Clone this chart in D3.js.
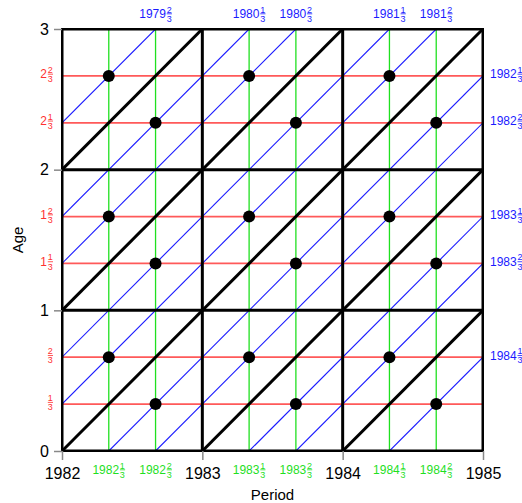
<!DOCTYPE html>
<html><head><meta charset="utf-8">
<script src="https://cdn.jsdelivr.net/npm/d3@7"></script>
<style>body{margin:0;background:#fff}svg{display:block;font-family:"Liberation Sans",Arial,sans-serif}</style>
</head><body>
<svg id="c" width="522" height="503"></svg>
<script>
// ---- data ----
const periodTicks = [1982, 1983, 1984, 1985];
const ageTicks = [0, 1, 2, 3];
// fractional periods: [whole, thirds]
const periodFracs = [[1982,1],[1982,2],[1983,1],[1983,2],[1984,1],[1984,2]];
// fractional ages: [whole, thirds]
const ageFracs = [[0,1],[0,2],[1,1],[1,2],[2,1],[2,2]];
// black cohort diagonals (birth year)
const cohortsMajor = [1980, 1981, 1982, 1983, 1984];
// blue cohort diagonals: [whole, thirds]
const cohortsMinor = [[1979,2],[1980,1],[1980,2],[1981,1],[1981,2],[1982,1],[1982,2],[1983,1],[1983,2],[1984,1]];
// points: [period whole, period thirds, age whole, age thirds]
const dots = [
  [1982,1,2,2],[1982,2,2,1],[1983,1,2,2],[1983,2,2,1],[1984,1,2,2],[1984,2,2,1],
  [1982,1,1,2],[1982,2,1,1],[1983,1,1,2],[1983,2,1,1],[1984,1,1,2],[1984,2,1,1],
  [1982,1,0,2],[1982,2,0,1],[1983,1,0,2],[1983,2,0,1],[1984,1,0,2],[1984,2,0,1]
];

const RED = "#ff3030", GREEN = "#1fe01f", BLUE = "#1a1aff";
const svg = d3.select("#c");
const x = d3.scaleLinear().domain([1982, 1985]).range([62, 483]);
const y = d3.scaleLinear().domain([0, 3]).range([451, 29]);
const val = f => f[0] + f[1] / 3;

const defs = svg.append("defs");
defs.append("clipPath").attr("id","clip").append("rect")
  .attr("x", x(1982)).attr("y", y(3)).attr("width", x(1985)-x(1982)).attr("height", y(0)-y(3));
const plot = svg.append("g").attr("clip-path","url(#clip)");

// red horizontal lines
plot.selectAll(".hr").data(ageFracs).join("line")
  .attr("x1", x(1982)).attr("x2", x(1985))
  .attr("y1", d => y(val(d))).attr("y2", d => y(val(d)))
  .attr("stroke", RED).attr("stroke-width", 1.7).attr("stroke-opacity", 0.8);
// green vertical lines
plot.selectAll(".vg").data(periodFracs).join("line")
  .attr("y1", y(0)).attr("y2", y(3))
  .attr("x1", d => x(val(d))).attr("x2", d => x(val(d)))
  .attr("stroke", GREEN).attr("stroke-width", 1.3);

function seg(c) {
  const p0 = Math.max(1982, c), p1 = Math.min(1985, c + 3);
  return [p0, p0 - c, p1, p1 - c];
}
// blue cohort lines
plot.selectAll(".bl").data(cohortsMinor).join("line")
  .each(function(d){
    const s = seg(val(d));
    d3.select(this).attr("x1", x(s[0])).attr("y1", y(s[1])).attr("x2", x(s[2])).attr("y2", y(s[3]));
  })
  .attr("stroke", BLUE).attr("stroke-width", 1.1);
// black cohort lines
plot.selectAll(".bk").data(cohortsMajor).join("line")
  .each(function(d){
    const s = seg(d);
    d3.select(this).attr("x1", x(s[0])).attr("y1", y(s[1])).attr("x2", x(s[2])).attr("y2", y(s[3]));
  })
  .attr("stroke", "#000").attr("stroke-width", 3);
// integer grid
plot.selectAll(".gv").data(periodTicks).join("line")
  .attr("x1", d => x(d)).attr("x2", d => x(d)).attr("y1", y(0)).attr("y2", y(3))
  .attr("stroke", "#000").attr("stroke-width", 3);
plot.selectAll(".gh").data(ageTicks).join("line")
  .attr("y1", d => y(d)).attr("y2", d => y(d)).attr("x1", x(1982)).attr("x2", x(1985))
  .attr("stroke", "#000").attr("stroke-width", 3);
svg.append("rect").attr("x", x(1982)).attr("y", y(3)).attr("width", x(1985)-x(1982)).attr("height", y(0)-y(3))
  .attr("fill","none").attr("stroke","#000").attr("stroke-width",2);

// dots
svg.selectAll(".dot").data(dots).join("circle")
  .attr("cx", d => x(d[0] + d[1]/3)).attr("cy", d => y(d[2] + d[3]/3)).attr("r", 6).attr("fill", "#000");

// axes
const xAxis = d3.axisBottom(x).tickValues(periodTicks).tickFormat(d3.format("d")).tickSize(9).tickPadding(8);
const gx = svg.append("g").attr("transform", `translate(0,${y(0)})`).call(xAxis);
gx.select(".domain").remove();
gx.selectAll(".tick line").attr("stroke", "#888").attr("stroke-width", 1.5);
gx.selectAll(".tick text").attr("font-size", 16).attr("fill", "#000").attr("font-family", "Liberation Sans, Arial, sans-serif");
const yAxis = d3.axisLeft(y).tickValues(ageTicks).tickFormat(d3.format("d")).tickSize(8).tickPadding(5);
const gy = svg.append("g").attr("transform", `translate(${x(1982)},0)`).call(yAxis);
gy.select(".domain").remove();
gy.selectAll(".tick line").attr("stroke", "#888").attr("stroke-width", 1.5);
gy.selectAll(".tick text").attr("font-size", 16).attr("fill", "#000").attr("font-family", "Liberation Sans, Arial, sans-serif");

// fraction label: whole (may be null) + stacked n/3
function fracLabel(px, py, whole, num, color, anchor) {
  const g = svg.append("g").attr("fill", color);
  let w = 0;
  if (whole !== null) {
    const t = g.append("text").attr("x", 0).attr("y", 0).attr("font-size", 12).text(whole);
    w = t.node().getComputedTextLength();
  }
  const fx = w + 0.5, fw = 5.5;
  g.append("text").attr("x", fx + fw/2).attr("y", -5.5).attr("font-size", 9).attr("text-anchor","middle").text(num);
  g.append("line").attr("x1", fx + 0.3).attr("x2", fx + fw).attr("y1", -4.2).attr("y2", -4.2)
    .attr("stroke", color).attr("stroke-width", 0.8);
  g.append("text").attr("x", fx + fw/2).attr("y", 3.6).attr("font-size", 9).attr("text-anchor","middle").text(3);
  const total = fx + fw;
  const off = anchor === "middle" ? -total/2 : anchor === "end" ? -total : 0;
  g.attr("transform", `translate(${px + off},${py})`);
}

// red age labels (left)
ageFracs.forEach(d => fracLabel(53, y(val(d)) + 2.5, d[0] === 0 ? null : d[0], d[1], RED, "end"));
// green period labels (bottom)
periodFracs.forEach(d => fracLabel(x(val(d)), 474, d[0], d[1], GREEN, "middle"));
// blue cohort labels at exit point
cohortsMinor.forEach(d => {
  const s = seg(val(d));
  if (s[3] >= 3 - 1e-9 && s[2] < 1985 - 1e-9) fracLabel(x(s[2]), 18, d[0], d[1], BLUE, "middle");
  else fracLabel(490, y(s[3]) + 2.5, d[0], d[1], BLUE, "start");
});

// titles
svg.append("text").attr("x", x(1983.5)).attr("y", 500).attr("text-anchor","middle").attr("font-size", 15).text("Period");
svg.append("text").attr("transform", `translate(23,${y(1.5)}) rotate(-90)`).attr("text-anchor","middle").attr("font-size", 15).text("Age");
</script>
</body></html>
